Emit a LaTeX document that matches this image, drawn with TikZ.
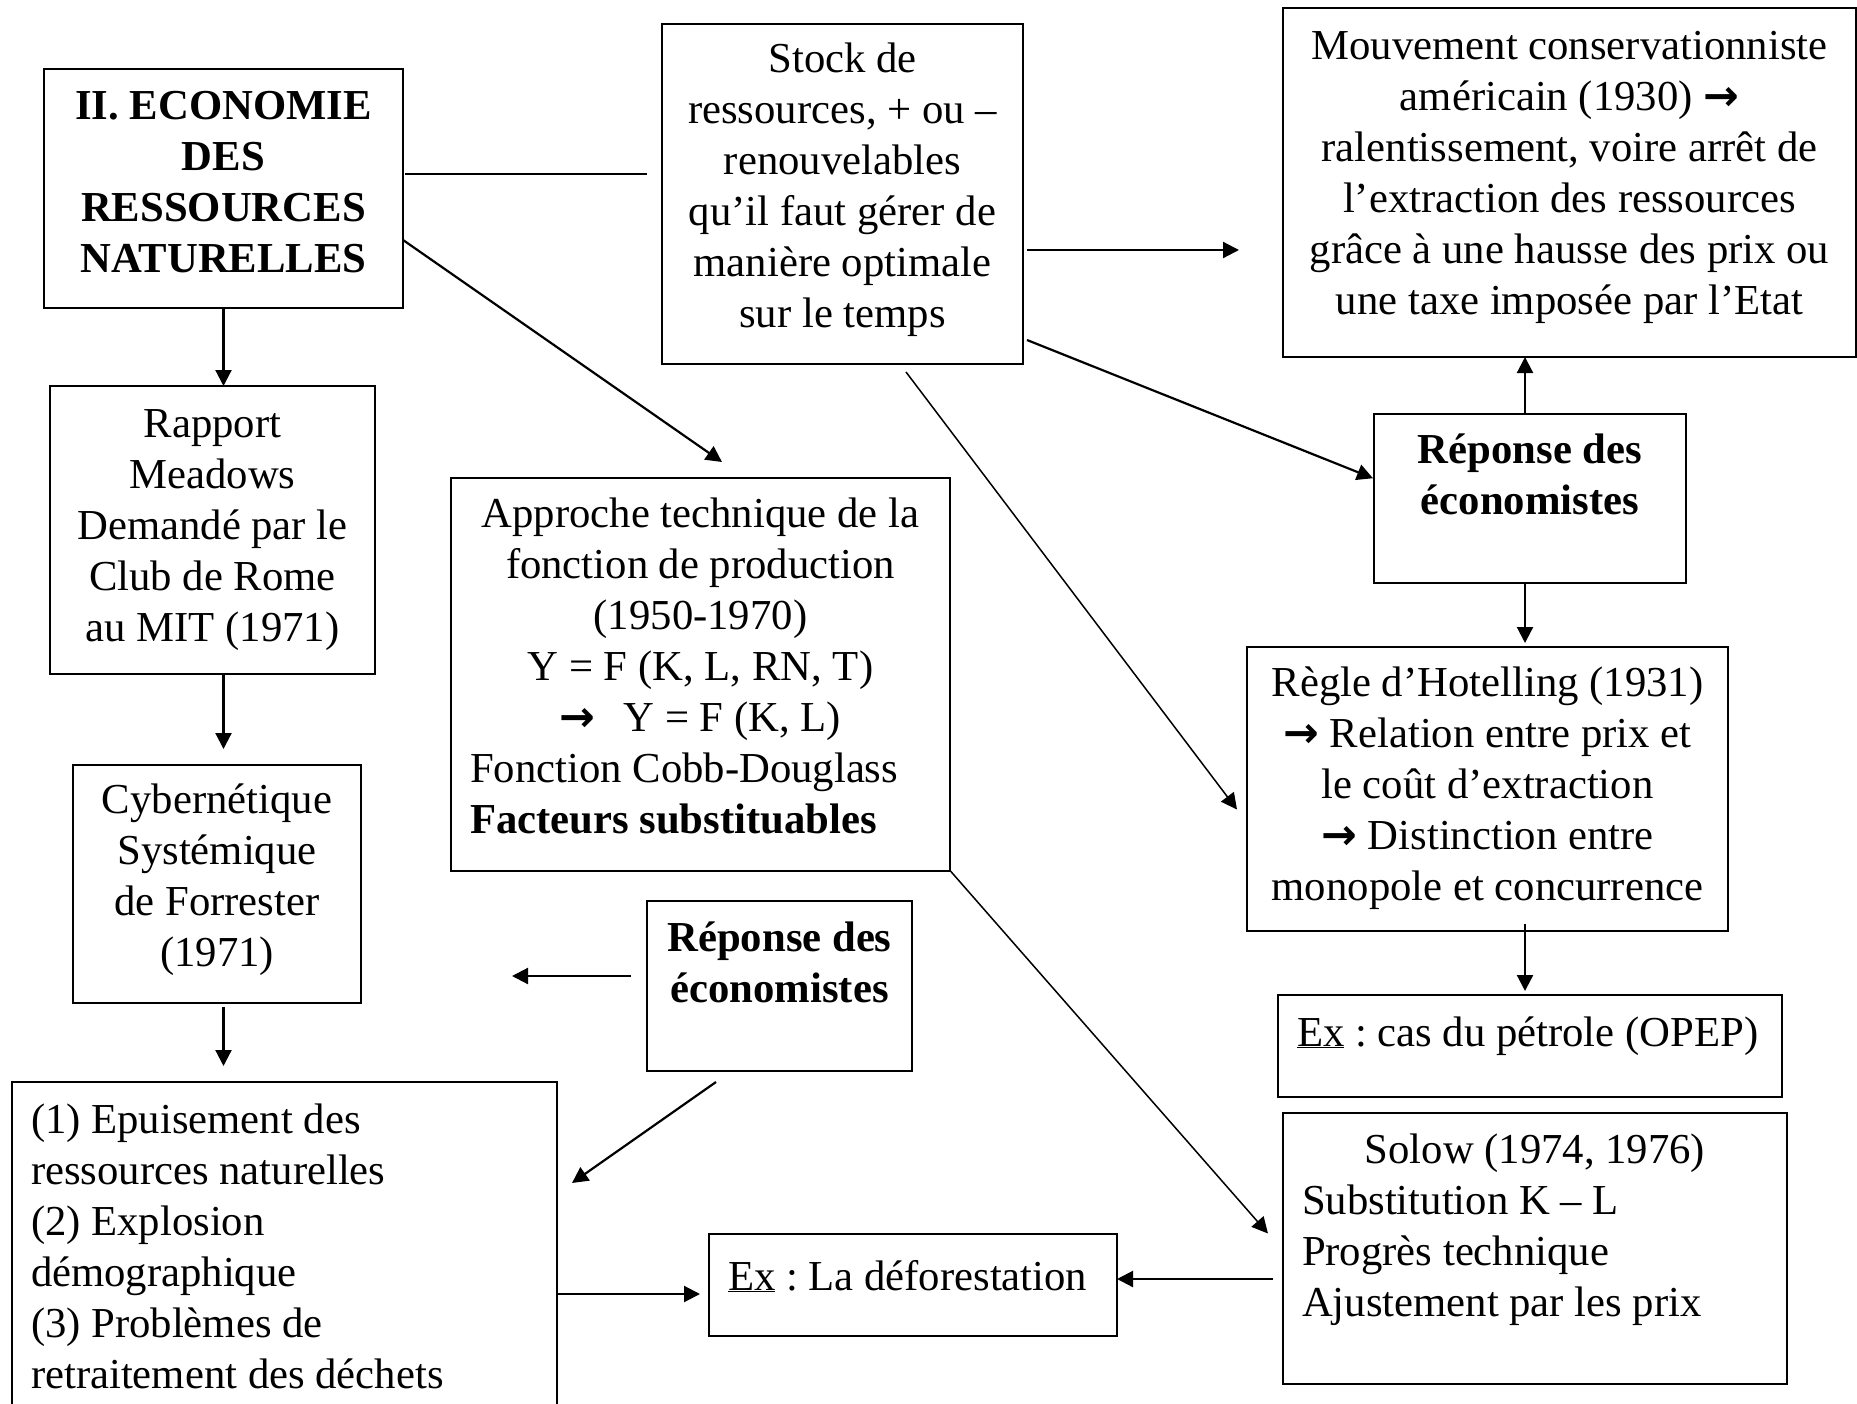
\documentclass[tikz,border=0pt]{standalone}
\usepackage{fontspec}
\setmainfont{Liberation Serif}
\newfontfamily\symb{DejaVu Sans}
\usetikzlibrary{arrows.meta,calc}
\frenchspacing

\newcommand{\flsym}{{\symb\bfseries →}}

\tikzset{every picture/.style={line width=2pt}}
\tikzset{
  boite/.style={draw, line width=2pt, inner xsep=19pt, inner ysep=0pt, outer sep=0pt,
    anchor=north west, align=flush center, font=\fontsize{42.7}{51}\selectfont},
  gras/.style={font=\fontsize{42.7}{51}\selectfont\bfseries},
  fleche/.style={-{Triangle[length=16pt,width=16pt]}, line width=2.2pt},
}

\begin{document}
\begin{tikzpicture}[x=1pt,y=1pt,yscale=-1,xscale=1]
\useasboundingbox (0,0) rectangle (1857,1404);
\clip (0,0) rectangle (1857,1404);

%Boxes, left column
\node[boite, gras, text width=321, text height=51, text depth=188] (main) at (44,69) {II. ECONOMIE\\ DES\\ RESSOURCES\\ NATURELLES};
\node[boite, text width=287, text height=51, text depth=237] (rapport) at (50,386) {Rapport\\ Meadows\\ Demandé par le\\ Club de Rome\\ au MIT (1971)};
\node[boite, text width=250, text height=48, text depth=190] (cyber) at (73,765) {Cybernétique\\ Systémique\\ de Forrester\\ (1971)};
\node[boite, align=flush left, text width=507, text height=51, text depth=310] (liste) at (12,1082) {(1) Epuisement des\\ ressources naturelles\\ (2) Explosion\\ démographique\\ (3) Problèmes de\\ retraitement des déchets};

%Boxes, middle column
\node[boite, text width=323, text height=49, text depth=291] (stock) at (662,24) {Stock de\\ ressources, + ou –\\ renouvelables\\ qu’il faut gérer de\\ manière optimale\\ sur le temps};
\node[boite, text width=461, text height=49, text depth=343.5] (approche) at (451,478) {Approche technique de la\\ fonction de production\\ (1950-1970)\\ Y = F (K, L, RN, T)\\ \flsym\hspace{28pt}Y = F (K, L)\\ \makebox[\linewidth][l]{Fonction Cobb-Douglass}\\ \makebox[\linewidth][l]{\bfseries Facteurs substituables}};
\node[boite, gras, inner xsep=10pt, text width=245, text height=50, text depth=120] (repM) at (647,901) {Réponse des\\ économistes};
\node[boite, align=flush left, text width=370, text height=56, text depth=46] (exDef) at (709,1234) {\underline{Ex} : La déforestation};

%Boxes, right column
\node[boite, text width=535, text height=52, text depth=297] (mouv) at (1283,8) {Mouvement conservationniste\\ américain (1930) \flsym\\ ralentissement, voire arrêt de\\ l’extraction des ressources\\ grâce à une hausse des prix ou\\ une taxe imposée par l’Etat};
\node[boite, gras, text width=274, text height=49.5, text depth=120] (repR) at (1374,413.5) {Réponse des\\ économistes};
\node[boite, text width=443, text height=49, text depth=235] (hotel) at (1247,647) {Règle d’Hotelling (1931)\\ \flsym\ Relation entre prix et\\ le coût d’extraction\\ \flsym\ Distinction entre\\ monopole et concurrence};
\node[boite, align=flush left, text width=466, text height=51, text depth=51] (exPet) at (1278,995) {\underline{Ex} : cas du pétrole (OPEP)};
\node[boite, align=flush left, text width=466, text height=50, text depth=221] (solow) at (1283,1113) {\makebox[\linewidth][c]{Solow (1974, 1976)}\\ Substitution K – L\\ Progrès technique\\ Ajustement par les prix};

%Connectors, left column
\draw[fleche] (main.south) -- (main.south |- rapport.north);
\draw[fleche, shorten >=16pt] (main.south |- rapport.south) -- (main.south |- cyber.north);
\draw[fleche, shorten <=4pt, shorten >=16pt] (main.south |- cyber.south) -- (main.south |- liste.north);
\draw ($(main.east)+(2,-14.5)$) -- ($(stock.west)+(-15,-20)$);
\draw[fleche] (main.-16.7) -- ($(approche.north)+(21.5,-16)$);

%Connectors, from the stock
\draw[fleche] ($(stock.east)+(4,56)$) -- ($(mouv.west |- stock.east)+(-44,56)$);
\draw[fleche] ($(stock.east)+(4,146)$) -- ($(repR.west)+(-1,-20)$);
\draw[fleche, line width=1.5pt] ($(stock.south)+(63.5,8)$) -- ($(hotel.west)+(-10,20.5)$);

%Connectors, right column
\draw[fleche] ($(repR.north)+(-5,0)$) -- ($(repR.north |- mouv.south)+(-5,0)$);
\draw[fleche, shorten >=4pt] ($(repR.south)+(-5,0)$) -- ($(repR.south |- hotel.north)+(-5,0)$);
\draw[fleche, shorten >=4pt] ($(hotel.south -| repR.south)+(-5,-7.5)$) -- ($(exPet.north -| repR.south)+(-5,0)$);

%Connectors, bottom
\draw[fleche, line width=1.5pt] (approche.south east) -- ($(solow.west)+(-15,-15)$);
\draw[fleche] ($(repM.west)+(-16,-10)$) -- ($(repM.west)+(-135,-10)$);
\draw[fleche] ($(repM.south)+(-63.5,11)$) -- ($(liste.north east)+(15,101)$);
\draw[fleche] ($(exDef.west -| liste.east)+(0,9)$) -- ($(exDef.west)+(-9,9)$);
\draw[fleche] ($(solow.west)+(-10,30.5)$) -- ($(exDef.east)+(0,-6)$);

\end{tikzpicture}
\end{document}
